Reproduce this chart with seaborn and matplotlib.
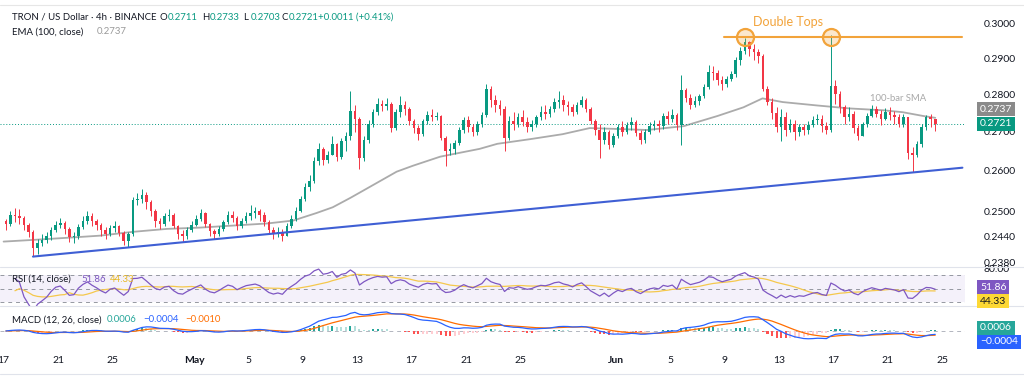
import numpy as np
import pandas as pd
import matplotlib
matplotlib.use("Agg")
import matplotlib.pyplot as plt
import seaborn as sns
from matplotlib.lines import Line2D
from matplotlib.ticker import FixedLocator, NullLocator, FuncFormatter

sns.set_theme(style="white")
plt.rcParams['font.family'] = ['Lato', 'DejaVu Sans']

# TRX/USD, 8h candles from 17 Apr to 24 Jun (3 per day)
first_open = 0.2478
closes = [
    0.2470, 0.2492, 0.2488, 0.2485, 0.2468, 0.2450, 0.2412, 0.2425, 0.2432,
    0.2440, 0.2455, 0.2468, 0.2472, 0.2458, 0.2438, 0.2440, 0.2462, 0.2478,
    0.2490, 0.2478, 0.2468, 0.2455, 0.2445, 0.2460, 0.2465, 0.2448, 0.2430,
    0.2445, 0.2528, 0.2530, 0.2540, 0.2522, 0.2500, 0.2478, 0.2470, 0.2488,
    0.2492, 0.2465, 0.2445, 0.2440, 0.2455, 0.2468, 0.2482, 0.2495, 0.2470,
    0.2452, 0.2445, 0.2458, 0.2475, 0.2492, 0.2485, 0.2465, 0.2478, 0.2490,
    0.2495, 0.2500, 0.2492, 0.2475, 0.2455, 0.2445, 0.2450, 0.2442, 0.2465,
    0.2482, 0.2500, 0.2530, 0.2560, 0.2575, 0.2625, 0.2655, 0.2628, 0.2640,
    0.2668, 0.2635, 0.2675, 0.2690, 0.2755, 0.2735, 0.2632, 0.2680, 0.2720,
    0.2752, 0.2775, 0.2768, 0.2775, 0.2710, 0.2752, 0.2770, 0.2760, 0.2728,
    0.2710, 0.2695, 0.2728, 0.2745, 0.2738, 0.2742, 0.2685, 0.2650, 0.2655,
    0.2672, 0.2705, 0.2730, 0.2712, 0.2700, 0.2722, 0.2745, 0.2815, 0.2785,
    0.2770, 0.2760, 0.2685, 0.2728, 0.2722, 0.2740, 0.2725, 0.2712, 0.2720,
    0.2738, 0.2752, 0.2748, 0.2760, 0.2778, 0.2785, 0.2772, 0.2765, 0.2752,
    0.2772, 0.2785, 0.2760, 0.2728, 0.2705, 0.2680, 0.2700, 0.2665, 0.2690,
    0.2712, 0.2700, 0.2718, 0.2725, 0.2698, 0.2680, 0.2700, 0.2715, 0.2722,
    0.2715, 0.2742, 0.2735, 0.2745, 0.2718, 0.2812, 0.2790, 0.2770, 0.2782,
    0.2795, 0.2820, 0.2862, 0.2858, 0.2840, 0.2828, 0.2842, 0.2855, 0.2895,
    0.2920, 0.2945, 0.2925, 0.2918, 0.2905, 0.2815, 0.2780, 0.2750, 0.2712,
    0.2740, 0.2705, 0.2722, 0.2700, 0.2712, 0.2705, 0.2718, 0.2730, 0.2735,
    0.2715, 0.2705, 0.2822, 0.2800, 0.2765, 0.2738, 0.2748, 0.2710, 0.2690,
    0.2720, 0.2742, 0.2760, 0.2748, 0.2735, 0.2752, 0.2745, 0.2738, 0.2722,
    0.2738, 0.2645, 0.2640, 0.2668, 0.2712, 0.2738, 0.2735, 0.2721,
]
highs = [
    0.2482, 0.2500, 0.2508, 0.2505, 0.2490, 0.2472, 0.2455, 0.2435, 0.2445,
    0.2450, 0.2462, 0.2478, 0.2485, 0.2478, 0.2462, 0.2450, 0.2470, 0.2490,
    0.2502, 0.2495, 0.2482, 0.2472, 0.2462, 0.2468, 0.2478, 0.2468, 0.2452,
    0.2450, 0.2535, 0.2545, 0.2555, 0.2548, 0.2528, 0.2505, 0.2485, 0.2495,
    0.2505, 0.2495, 0.2468, 0.2455, 0.2462, 0.2478, 0.2492, 0.2505, 0.2498,
    0.2472, 0.2458, 0.2465, 0.2480, 0.2500, 0.2502, 0.2490, 0.2485, 0.2498,
    0.2515, 0.2510, 0.2505, 0.2498, 0.2480, 0.2462, 0.2462, 0.2458, 0.2472,
    0.2492, 0.2510, 0.2538, 0.2570, 0.2590, 0.2635, 0.2670, 0.2662, 0.2650,
    0.2690, 0.2672, 0.2685, 0.2700, 0.2808, 0.2772, 0.2740, 0.2688, 0.2730,
    0.2760, 0.2790, 0.2785, 0.2790, 0.2780, 0.2760, 0.2795, 0.2782, 0.2765,
    0.2735, 0.2718, 0.2735, 0.2755, 0.2760, 0.2752, 0.2745, 0.2690, 0.2672,
    0.2678, 0.2712, 0.2740, 0.2742, 0.2720, 0.2728, 0.2752, 0.2828, 0.2822,
    0.2798, 0.2785, 0.2768, 0.2742, 0.2752, 0.2750, 0.2758, 0.2738, 0.2730,
    0.2745, 0.2768, 0.2770, 0.2768, 0.2790, 0.2808, 0.2798, 0.2782, 0.2775,
    0.2780, 0.2795, 0.2790, 0.2765, 0.2735, 0.2720, 0.2712, 0.2705, 0.2698,
    0.2722, 0.2728, 0.2725, 0.2738, 0.2730, 0.2705, 0.2708, 0.2725, 0.2730,
    0.2730, 0.2750, 0.2755, 0.2760, 0.2750, 0.2852, 0.2818, 0.2800, 0.2795,
    0.2802, 0.2828, 0.2880, 0.2878, 0.2866, 0.2850, 0.2850, 0.2865, 0.2902,
    0.2930, 0.2958, 0.2948, 0.2940, 0.2925, 0.2912, 0.2822, 0.2790, 0.2765,
    0.2760, 0.2752, 0.2735, 0.2730, 0.2722, 0.2720, 0.2728, 0.2742, 0.2748,
    0.2745, 0.2725, 0.2965, 0.2840, 0.2810, 0.2772, 0.2765, 0.2755, 0.2718,
    0.2725, 0.2750, 0.2772, 0.2768, 0.2758, 0.2762, 0.2765, 0.2755, 0.2748,
    0.2748, 0.2740, 0.2660, 0.2675, 0.2720, 0.2745, 0.2748, 0.2733,
]
lows = [
    0.2455, 0.2465, 0.2475, 0.2470, 0.2455, 0.2438, 0.2395, 0.2400, 0.2418,
    0.2425, 0.2432, 0.2450, 0.2460, 0.2445, 0.2428, 0.2425, 0.2435, 0.2458,
    0.2470, 0.2465, 0.2455, 0.2440, 0.2435, 0.2440, 0.2450, 0.2440, 0.2420,
    0.2415, 0.2440, 0.2515, 0.2520, 0.2505, 0.2490, 0.2462, 0.2458, 0.2465,
    0.2478, 0.2460, 0.2435, 0.2428, 0.2435, 0.2450, 0.2465, 0.2478, 0.2462,
    0.2440, 0.2435, 0.2440, 0.2452, 0.2470, 0.2475, 0.2455, 0.2460, 0.2472,
    0.2480, 0.2485, 0.2478, 0.2465, 0.2445, 0.2435, 0.2438, 0.2430, 0.2440,
    0.2460, 0.2478, 0.2498, 0.2525, 0.2550, 0.2570, 0.2615, 0.2615, 0.2620,
    0.2640, 0.2625, 0.2630, 0.2650, 0.2680, 0.2700, 0.2605, 0.2625, 0.2670,
    0.2712, 0.2745, 0.2755, 0.2758, 0.2700, 0.2705, 0.2740, 0.2745, 0.2718,
    0.2698, 0.2680, 0.2690, 0.2722, 0.2728, 0.2730, 0.2678, 0.2612, 0.2640,
    0.2642, 0.2665, 0.2698, 0.2700, 0.2688, 0.2692, 0.2712, 0.2740, 0.2765,
    0.2752, 0.2745, 0.2650, 0.2680, 0.2705, 0.2712, 0.2715, 0.2700, 0.2702,
    0.2712, 0.2730, 0.2735, 0.2738, 0.2752, 0.2762, 0.2755, 0.2745, 0.2742,
    0.2748, 0.2765, 0.2752, 0.2720, 0.2692, 0.2632, 0.2668, 0.2655, 0.2660,
    0.2685, 0.2688, 0.2695, 0.2705, 0.2688, 0.2668, 0.2672, 0.2695, 0.2705,
    0.2700, 0.2708, 0.2720, 0.2725, 0.2705, 0.2665, 0.2778, 0.2760, 0.2765,
    0.2772, 0.2790, 0.2815, 0.2838, 0.2825, 0.2812, 0.2820, 0.2835, 0.2848,
    0.2880, 0.2912, 0.2905, 0.2895, 0.2885, 0.2808, 0.2770, 0.2735, 0.2700,
    0.2675, 0.2690, 0.2700, 0.2680, 0.2690, 0.2692, 0.2695, 0.2712, 0.2720,
    0.2700, 0.2695, 0.2700, 0.2775, 0.2750, 0.2720, 0.2728, 0.2698, 0.2680,
    0.2688, 0.2712, 0.2738, 0.2738, 0.2718, 0.2730, 0.2730, 0.2722, 0.2712,
    0.2712, 0.2630, 0.2598, 0.2635, 0.2660, 0.2705, 0.2712, 0.2703,
]

# grey moving average line (days since 17 Apr)
ema_day = [0.0, 2.2, 4.7, 7.1, 9.5, 12.0, 14.4, 16.9, 19.4, 21.3, 23.0, 24.2,
           25.5, 26.4, 28.9, 30.1, 32.1, 35.0, 36.3, 38.7, 41.1, 43.1, 44.8,
           47.3, 50.0, 52.5, 54.4, 55.8, 57.3, 59.8, 62.2, 64.7, 66.1, 67.6, 68.5]
ema_val = [0.2428, 0.2432, 0.2437, 0.2442, 0.2451, 0.2458, 0.2461, 0.2466,
           0.2471, 0.2478, 0.2496, 0.2510, 0.2533, 0.2550, 0.2598, 0.2613,
           0.2636, 0.2656, 0.2669, 0.2681, 0.2694, 0.2710, 0.2708, 0.2705,
           0.2715, 0.2742, 0.2765, 0.2789, 0.2779, 0.2770, 0.2762, 0.2757,
           0.2752, 0.2742, 0.2737]

# rising support line and double-top level
support_day = [2.16, 70.5]
support_price = [0.2393, 0.2608]
double_top_level = 0.2960

price_ticks = [0.2380, 0.2440, 0.2500, 0.2600, 0.2700, 0.2800, 0.2900, 0.3000]
tick_days = [0, 4, 8, 14, 18, 22, 26, 30, 34, 38, 45, 49, 53, 57, 61, 65, 69]
tick_labels = ['17', '21', '25', 'May', '5', '9', '13', '17', '21', '25',
               'Jun', '5', '9', '13', '17', '21', '25']

GREEN = '#089981'
RED = '#f23645'
TXT = '#131722'

c = np.array(closes)
o = np.r_[first_open, c[:-1]]
h = np.maximum.reduce([np.array(highs), o, c])
l = np.minimum.reduce([np.array(lows), o, c])
t = np.arange(len(c)) / 3 + 1 / 6
up = c >= o

# indicators
s = pd.Series(c)
chg = pd.Series(c - o)
gain = chg.clip(lower=0).ewm(alpha=1 / 14, adjust=True).mean()
loss = (-chg).clip(lower=0).ewm(alpha=1 / 14, adjust=True).mean()
rsi = 100 - 100 / (1 + gain / loss.replace(0, np.nan))
rsi_ma = rsi.rolling(14, min_periods=1).mean()
warm = t > 0.8          # skip the first bars while the averages settle
macd = s.ewm(span=12, adjust=False).mean() - s.ewm(span=26, adjust=False).mean()
signal = macd.ewm(span=9, adjust=False).mean()
hist = (macd - signal).values
prev = np.r_[0, hist[:-1]]
hist_cols = np.where(hist >= 0,
                     np.where(hist >= prev, '#26a69a', '#b2dfdb'),
                     np.where(hist < prev, '#ff5252', '#ffcdd2'))

W, H = 1024, 380
fig = plt.figure(figsize=(W / 100, H / 100), dpi=100)
fig.patch.set_facecolor('white')


def box(x0, y0, x1, y1):
    return [x0 / W, 1 - y1 / H, (x1 - x0) / W, (y1 - y0) / H]


ax = fig.add_axes(box(0, 8, 965, 267))
ax_rsi = fig.add_axes(box(0, 267, 965, 306), sharex=ax)
ax_macd = fig.add_axes(box(0, 306, 965, 348), sharex=ax)
for a in (ax, ax_rsi, ax_macd):
    a.set_facecolor('none')
    for sp in a.spines.values():
        sp.set_visible(False)
    a.grid(False)

# ---- price panel
ax.set_yscale('log')
ax.vlines(t[up], l[up], h[up], color=GREEN, lw=0.7, zorder=2)
ax.vlines(t[~up], l[~up], h[~up], color=RED, lw=0.7, zorder=2)
ax.bar(t[up], (c - o)[up], bottom=o[up], width=0.19, color=GREEN, lw=0, zorder=3)
ax.bar(t[~up], (c - o)[~up], bottom=o[~up], width=0.19, color=RED, lw=0, zorder=3)
sns.lineplot(x=ema_day, y=ema_val, ax=ax, color='#ababab', lw=1.3, zorder=1)
sns.lineplot(x=support_day, y=support_price, ax=ax, color='#3f5fd4', lw=1.5, zorder=4)
ax.axhline(c[-1], color=GREEN, ls=(0, (1, 2)), lw=0.7, zorder=1)

# double tops
first = (t > 50) & (t < 58)
second = t >= 58
top_x = [t[first][np.argmax(h[first])], t[second][np.argmax(h[second])]]
sns.lineplot(x=[top_x[0] - 1.5, 70.5], y=[double_top_level] * 2, ax=ax,
             color='#f2a33a', lw=1.5, zorder=5)
ax.scatter(top_x, [double_top_level] * 2, s=150, facecolor=(0.95, 0.64, 0.23, 0.25),
           edgecolor='#f2a33a', lw=1.6, zorder=6)
ax.text(np.mean(top_x), 0.3003, 'Double Tops', color='#f2a33a', fontsize=9,
        ha='center', va='center')
ax.text(65.8, 0.2789, '100-bar SMA', color='#a8a8a8', fontsize=6.8,
        ha='center', va='center')

ax.set_xlim(-0.265, 70.69)
ax.set_ylim(0.2369, 0.3044)
ax.yaxis.set_major_locator(FixedLocator(price_ticks))
ax.yaxis.set_minor_locator(NullLocator())
ax.yaxis.set_major_formatter(FuncFormatter(lambda v, _: f"{v:.4f}"))
ax.yaxis.tick_right()
ax.tick_params(axis='y', length=0, pad=13.5, labelsize=7.5, labelcolor=TXT)
ax.tick_params(axis='x', length=0, labelbottom=False)
ax.set_xlabel('')
ax.set_ylabel('')

# ---- RSI panel
ax_rsi.axhspan(30, 70, color='#7e57c2', alpha=0.08, lw=0)
for lvl in (70, 50, 30):
    ax_rsi.axhline(lvl, color='#9598a1', ls=(0, (4, 4)), lw=0.7)
sns.lineplot(x=t[warm], y=rsi_ma.values[warm], ax=ax_rsi, color='#f5c84c', lw=0.9)
sns.lineplot(x=t[warm], y=rsi.values[warm], ax=ax_rsi, color='#7e57c2', lw=0.9)
ax_rsi.set_ylim(24, 82)
ax_rsi.set_yticks([80])
ax_rsi.set_yticklabels(['80.00'])
ax_rsi.yaxis.tick_right()
ax_rsi.tick_params(axis='y', length=0, pad=13.5, labelsize=7.5, labelcolor=TXT)
ax_rsi.tick_params(axis='x', length=0, labelbottom=False)
ax_rsi.set_xlabel('')
ax_rsi.set_ylabel('')

# ---- MACD panel
ax_macd.bar(t, hist, width=0.15, color=hist_cols, lw=0)
sns.lineplot(x=t, y=signal.values, ax=ax_macd, color='#ff6d00', lw=0.9)
sns.lineplot(x=t, y=macd.values, ax=ax_macd, color='#2962ff', lw=0.9)
ax_macd.axhline(0, color='#b2b5be', ls=(0, (4, 4)), lw=0.7, zorder=0)
top = max(macd.max(), signal.max()) * 25 / 19
bot = min(-top * 17 / 25, min(macd.min(), signal.min()) * 1.1)
ax_macd.set_ylim(bot, top)
ax_macd.set_yticks([])
ax_macd.set_xticks(tick_days)
ax_macd.set_xticklabels(tick_labels)
ax_macd.tick_params(axis='x', length=0, pad=6, labelsize=7.5, labelcolor=TXT)
for lab in ax_macd.get_xticklabels():
    if lab.get_text() in ('May', 'Jun'):
        lab.set_fontweight('bold')
ax_macd.set_xlabel('')
ax_macd.set_ylabel('')

# ---- separators
for yy in (267, 306, 374):
    fig.add_artist(Line2D([0, 1], [1 - yy / H] * 2, color='#e0e3eb', lw=0.8))
fig.add_artist(Line2D([0, 1], [1 - 5 / H] * 2, color='#e6e6e6', lw=0.8))


def ftext(x, y, txt, color=TXT, size=6.9, **kw):
    fig.text(x / W, 1 - y / H, txt, color=color, fontsize=size, va='center', **kw)


def tag(y, txt, face, color='white'):
    fig.text(980 / W, 1 - y / H, txt, color=color, fontsize=7.5, va='center',
             ha='left', bbox=dict(boxstyle='square,pad=0.28', fc=face, ec='none'))


# header
ftext(12, 17, 'TRON / US Dollar · 4h · BINANCE')
for x0, k, v in [(160, 'O', '0.2711'), (202, 'H', '0.2733'),
                 (243, 'L', '0.2703'), (281, 'C', '0.2721')]:
    ftext(x0, 17, k)
    ftext(x0 + 7.5, 17, v, color=GREEN)
ftext(318, 17, '+0.0011 (+0.41%)', color=GREEN)
ftext(12, 32, 'EMA (100, close)')
ftext(97, 32, '0.2737', color='#9a9a9a')

ftext(12, 279, 'RSI (14, close)')
ftext(81, 279, '51.86', color='#7e57c2')
ftext(110, 279, '44.33', color='#e8b923')
ftext(12, 320, 'MACD (12, 26, close)')
ftext(107, 320, '0.0006', color='#26a69a')
ftext(143, 320, '\u22120.0004', color='#2962ff')
ftext(185, 320, '\u22120.0010', color='#ff6d00')

tag(109, '0.2737', '#8a8a8a')
tag(124, '0.2721', GREEN)
tag(287, '51.86', '#7e57c2')
tag(301, '44.33', '#fdd835', color=TXT)
tag(328, '0.0006', '#26a69a')
tag(342, '\u22120.0004', '#2962ff')

fig.savefig('out.png', dpi=100)
